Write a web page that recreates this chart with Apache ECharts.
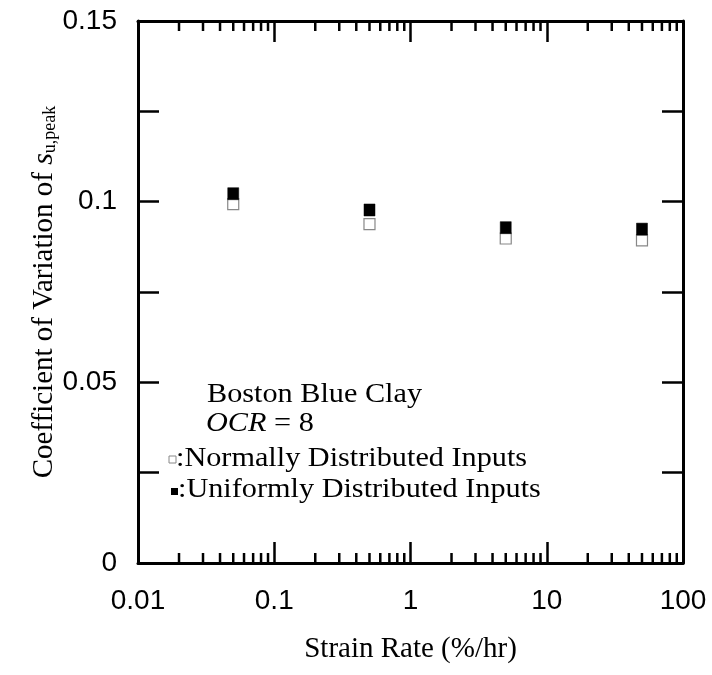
<!DOCTYPE html>
<html>
<head>
<meta charset="utf-8">
<script src="https://cdn.jsdelivr.net/npm/echarts@6/dist/echarts.min.js"></script>
<style>html,body{margin:0;padding:0;background:#fff}#c{width:712px;height:675px}</style>
</head>
<body>
<div id="c"></div>
<script>
const strainRates = [0.05, 0.5, 5, 50];
const normalCOV = [0.0993, 0.0938, 0.0898, 0.0893];
const uniformCOV = [0.1022, 0.0977, 0.0928, 0.0924];
const xMinorTicks = [0.02,0.03,0.04,0.05,0.06,0.07,0.08,0.09,0.2,0.3,0.4,0.5,0.6,0.7,0.8,0.9,2,3,4,5,6,7,8,9,20,30,40,50,60,70,80,90];
const yLabels = ['0', '0.05', '0.1', '0.15'];

const chart = echarts.init(document.getElementById('c'), null, {renderer: 'canvas'});
const serif = '"Liberation Serif", "Times New Roman", serif';
const sans = '"Liberation Sans", Arial, sans-serif';
const axisLine = {show: true, onZero: false, lineStyle: {color: '#000', width: 3}};

function pairs(xs, ys) { return xs.map((x, i) => [x, ys[i]]); }

const xBase = {
  type: 'log', logBase: 10, min: 0.01, max: 100,
  axisLine: axisLine,
  axisTick: {show: true, inside: true, length: 21, lineStyle: {color: '#000', width: 2.5}},
  splitLine: {show: false}, minorTick: {show: false}
};
const yBase = {
  type: 'value', min: 0, max: 0.15, interval: 0.025,
  axisLine: axisLine,
  axisTick: {show: true, inside: true, length: 21, lineStyle: {color: '#000', width: 2.5}},
  splitLine: {show: false}
};

function legendText(x, y, txt, rich) {
  return {type: 'text', x: x, y: y, scaleX: 1.12, scaleY: 1.03, silent: true,
    style: {x: 0, y: 0, text: txt, font: '27px ' + serif, fill: '#000', verticalAlign: 'middle', align: 'left', rich: rich}};
}

chart.setOption({
  animation: false,
  backgroundColor: '#fff',
  grid: {left: 138, right: 29, top: 21, bottom: 112, containLabel: false},
  xAxis: [
    Object.assign({}, xBase, {
      position: 'bottom',
      name: 'Strain Rate (%/hr)', nameLocation: 'middle', nameGap: 72,
      nameTextStyle: {fontFamily: serif, fontSize: 29, color: '#000'},
      axisLabel: {show: true, margin: 24, fontFamily: sans, fontSize: 28, color: '#000',
        formatter: v => String(v)}
    }),
    Object.assign({}, xBase, {position: 'top', axisLabel: {show: false}})
  ],
  yAxis: [
    Object.assign({}, yBase, {
      position: 'left',
      name: '{a|Coefficient of Variation of }{s|s}{sub|u,peak}',
      nameLocation: 'middle', nameGap: 79, nameRotate: 90, nameMoveOverlap: false,
      nameTextStyle: {
        color: '#000', fontFamily: serif, fontSize: 29,
        rich: {
          a: {fontFamily: serif, fontSize: 29, color: '#000', lineHeight: 30, verticalAlign: 'middle'},
          s: {fontFamily: serif, fontSize: 30, fontStyle: 'italic', color: '#000', lineHeight: 30, verticalAlign: 'middle'},
          sub: {fontFamily: serif, fontSize: 18, color: '#000', lineHeight: 30, verticalAlign: 'bottom'}
        }
      },
      axisLabel: {show: true, margin: 21, fontFamily: sans, fontSize: 28, color: '#000',
        formatter: function (v) {
          const k = Math.round(v / 0.05 * 1000) / 1000;
          if (Math.abs(k - Math.round(k)) > 1e-6) return '';
          return yLabels[Math.round(k)];
        }}
    }),
    Object.assign({}, yBase, {position: 'right', axisLabel: {show: false}})
  ],
  series: [
    {
      type: 'custom', xAxisIndex: 0, yAxisIndex: 0, silent: true, clip: false,
      data: xMinorTicks.map(v => [v]),
      renderItem: function (params, api) {
        const x = api.value(0);
        const pb = api.coord([x, 0]);
        const pt = api.coord([x, 0.15]);
        const st = {stroke: '#000', lineWidth: 2.5};
        return {type: 'group', children: [
          {type: 'line', shape: {x1: pb[0], y1: pb[1], x2: pb[0], y2: pb[1] - 10}, style: st},
          {type: 'line', shape: {x1: pt[0], y1: pt[1], x2: pt[0], y2: pt[1] + 10}, style: st}
        ]};
      }
    },
    {
      name: 'Normally Distributed Inputs', type: 'scatter', symbol: 'rect', symbolSize: 11,
      itemStyle: {color: '#fff', borderColor: '#888', borderWidth: 1.2, opacity: 1},
      data: pairs(strainRates, normalCOV), z: 3
    },
    {
      name: 'Uniformly Distributed Inputs', type: 'scatter', symbol: 'rect', symbolSize: [11, 12],
      itemStyle: {color: '#000', borderColor: '#000', borderWidth: 0.5, opacity: 1},
      data: pairs(strainRates, uniformCOV), z: 4
    }
  ],
  graphic: [
    legendText(207, 395, 'Boston Blue Clay'),
    legendText(206, 424, '{i|OCR} = 8', {i: {fontStyle: 'italic', fontFamily: serif, fontSize: 27, fill: '#000'}}),
    {type: 'rect', shape: {x: 169, y: 456, width: 7, height: 7}, style: {fill: '#fff', stroke: '#888', lineWidth: 1}},
    legendText(176, 459, ':Normally Distributed Inputs'),
    {type: 'rect', shape: {x: 171, y: 488, width: 7, height: 7}, style: {fill: '#000'}},
    legendText(178, 490, ':Uniformly Distributed Inputs')
  ]
});
</script>
</body>
</html>
